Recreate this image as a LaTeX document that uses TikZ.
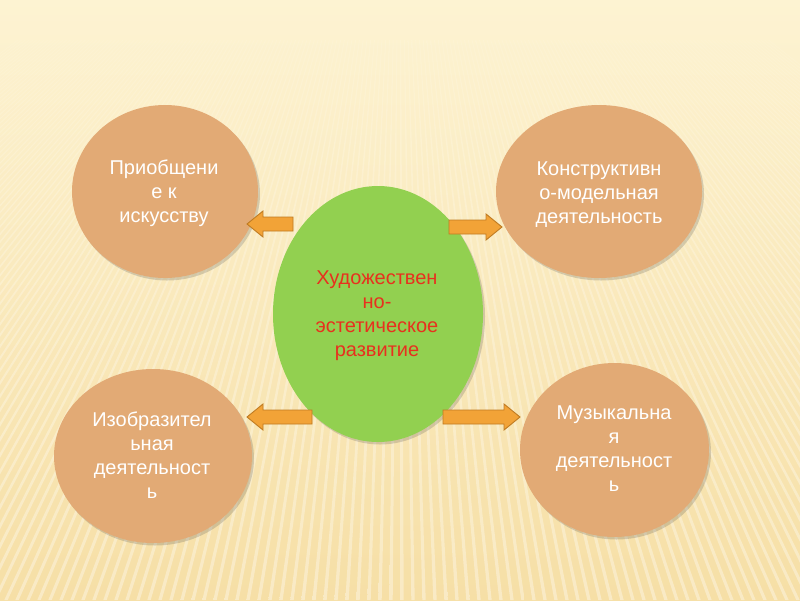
\documentclass[tikz,border=0pt]{standalone}
\usepackage{fontspec}
\setmainfont{Liberation Sans}
\usetikzlibrary{shapes.geometric,shadows}
\definecolor{bgtop}{HTML}{FDF3D2}
\definecolor{bgbot}{HTML}{F6DFA6}
\definecolor{bubfill}{HTML}{E2AA75}
\definecolor{leaf}{HTML}{92D050}
\definecolor{redtxt}{HTML}{E8301E}
\definecolor{arrfill}{HTML}{F2A337}
\definecolor{arrline}{HTML}{BF7B22}
\tikzset{
  softshadow/.style={drop shadow={shadow xshift=2pt, shadow yshift=-2.5pt, opacity=0.22, fill=black!70}},
  bubble/.style={ellipse, fill=bubfill, draw=none, inner sep=0pt, softshadow},
  hub/.style={ellipse, fill=leaf, draw=none, inner sep=0pt, softshadow},
  bubtext/.style={align=center, inner sep=0pt, text=white, font=\fontsize{20}{24}\selectfont},
  hubtext/.style={bubtext, text=redtxt},
  barrow/.style={fill=arrfill, draw=arrline, line width=0.9pt, line join=miter},
  stripefill/.style={top color=white!20!bgtop, middle color=white, bottom color=white, opacity=0.35, draw=none}
}
% block arrow: name, tail x, tip x, y
\newcommand\blockarrow[4]{%
  \coordinate (#1 tail) at (#2,#4);
  \coordinate (#1 tip) at (#3,#4);
  \pgfmathsetmacro\headx{#3-16*sign(#3-#2)}%
  \draw[barrow] (#2,#4-7) -- (\headx,#4-7) -- (\headx,#4-13) -- (#1 tip)
     -- (\headx,#4+13) -- (\headx,#4+7) -- (#2,#4+7) -- cycle;
}
\begin{document}
\begin{tikzpicture}[x=1pt,y=-1pt]
\useasboundingbox (0,0) rectangle (800,600);
% background
\shade[top color=bgtop, bottom color=bgbot] (0,0) rectangle (800,600);
\foreach \i in {0,...,200} {
  \pgfmathsetmacro\xb{-720+\i*11}
  \pgfmathsetmacro\xt{400+(\xb-400)*0.341176}
  \shade[stripefill] (\xt-0.5,40) -- (\xt+0.5,40) -- (\xb+1.7,600) -- (\xb-1.7,600) -- cycle;
}
% ellipses
\node[bubble, minimum width=186pt, minimum height=173pt] (tl) at (165,191.5) {};
\node[bubble, minimum width=206pt, minimum height=173pt] (tr) at (599,191.5) {};
\node[hub, minimum width=210pt, minimum height=256pt] (c) at (378,314) {};
\node[bubble, minimum width=198pt, minimum height=174pt] (bl) at (153,456) {};
\node[bubble, minimum width=189pt, minimum height=174pt] (br) at (614.5,450) {};
% texts
\node[bubtext] (tltext) at (164,194) {\strut Приобщени\\\strut е к\\\strut искусству};
\node[bubtext] (trtext) at (599,194.5) {\strut Конструктивн\\\strut о-модельная\\\strut деятельность};
\node[hubtext] (ctext) at (377,316) {\strut Художествен\\\strut но-\\\strut эстетическое\\\strut развитие};
\node[bubtext] (bltext) at (152,458) {\strut Изобразител\\\strut ьная\\\strut деятельност\\\strut ь};
\node[bubtext] (brtext) at (614,451) {\strut Музыкальна\\\strut я\\\strut деятельност\\\strut ь};
% block arrows
\blockarrow{a1}{293}{247}{224}
\blockarrow{a2}{449}{502}{227}
\blockarrow{a3}{312}{247}{417}
\blockarrow{a4}{443}{520}{417}
\end{tikzpicture}
\end{document}
